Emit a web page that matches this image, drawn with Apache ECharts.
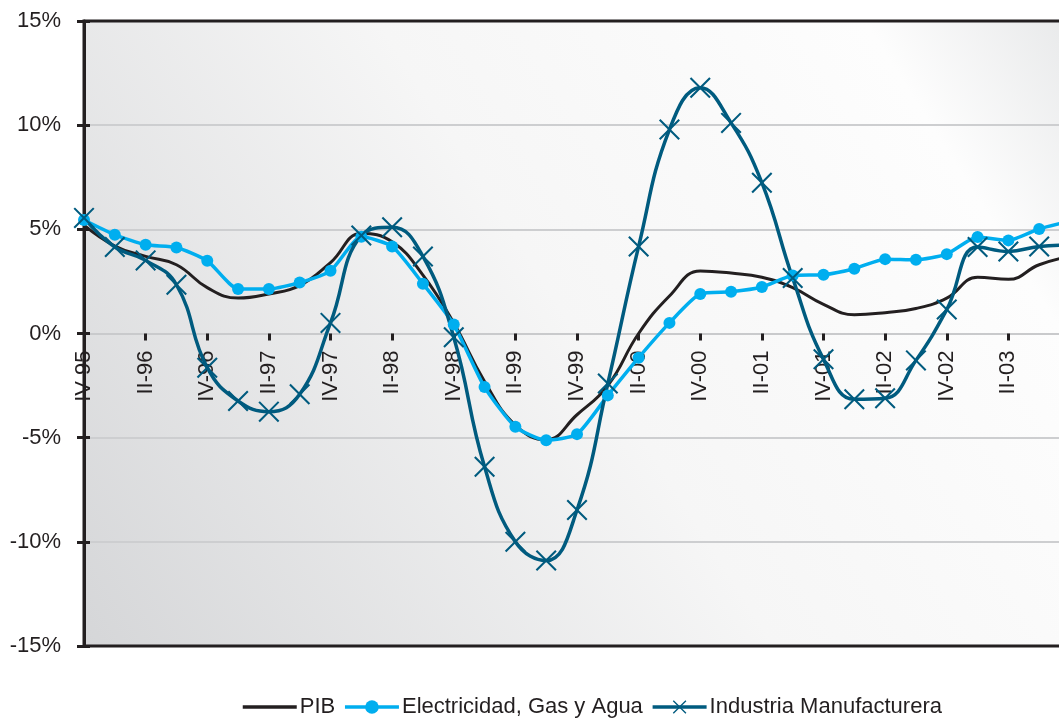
<!DOCTYPE html>
<html>
<head>
<meta charset="utf-8">
<title>PIB, Electricidad e Industria</title>
<script src="https://cdn.jsdelivr.net/npm/echarts@6/dist/echarts.min.js"></script>
<style>
  html,body{margin:0;padding:0;background:#fff;}
  #grafico{width:1059px;height:720px;}
</style>
</head>
<body>
<div id="grafico"></div>
<script>
// trimestres (eje x)
var categorias = ["IV-95","I-96","II-96","III-96","IV-96","I-97","II-97","III-97","IV-97",
  "I-98","II-98","III-98","IV-98","I-99","II-99","III-99","IV-99","I-00","II-00","III-00","IV-00",
  "I-01","II-01","III-01","IV-01","I-02","II-02","III-02","IV-02","I-03","II-03","III-03","IV-03"];

// variación %
var pib = [5.2,4.2,3.7,3.3,2.2,1.7,1.9,2.3,3.4,4.8,4.4,2.8,0.5,-2.3,-4.4,-5.1,-3.9,-2.5,0.0,1.8,
  3.0,2.9,2.7,2.2,1.4,0.9,1.0,1.2,1.7,2.7,2.6,3.3,3.7];
var electricidad = [5.45,4.74,4.26,4.13,3.49,2.14,2.14,2.45,3.01,4.64,4.18,2.39,0.43,-2.57,-4.48,-5.12,
  -4.83,-2.97,-1.16,0.51,1.9,2.0,2.23,2.78,2.82,3.11,3.57,3.54,3.81,4.63,4.47,5.02,5.4];
var industria = [5.55,4.15,3.51,2.34,-1.64,-3.24,-3.75,-2.92,0.51,4.7,5.1,3.7,-0.18,-6.4,-10.0,-10.9,
  -8.47,-2.4,4.18,9.79,11.8,10.11,7.24,2.66,-1.24,-3.16,-3.11,-1.29,1.15,4.15,3.94,4.18,4.25];

var ejeY = {min:-15, max:15, intervalo:5};

var fuente = "'Liberation Sans Narrow','Liberation Sans',Arial,sans-serif";
var oscuro = "#231f20";
var marcaX = "path://M0,0.7L0.7,0L10,9.3L9.3,10Z M9.3,0L10,0.7L0.7,10L0,9.3Z";

// alto del área de trazado, para subir el eje x hasta el 0%
var grid = {left:84, top:21, right:-11, bottom:74};
var altoPlot = 720 - grid.top - grid.bottom;

var app = {
  chart: null,
  init: function(){
    app.chart = echarts.init(document.getElementById("grafico"));
    app.chart.setOption(app.opciones());
  },
  opciones: function(){
    return {
      animation: false,
      textStyle: {fontFamily: fuente, color: oscuro},
      grid: {
        left: grid.left, top: grid.top, right: grid.right, bottom: grid.bottom,
        outerBoundsMode: "none",
        containLabel: false,
        show: true,
        borderColor: oscuro, borderWidth: 3,
        backgroundColor: new echarts.graphic.LinearGradient(0, 1, 1, 0, [
          {offset: 0, color: "#d5d6d8"},
          {offset: 0.5, color: "#f6f6f6"},
          {offset: 0.85, color: "#fdfdfd"},
          {offset: 1, color: "#e8e9ea"}
        ])
      },
      legend: {
        left: 236, bottom: -3,
        itemWidth: 54, itemHeight: 17, itemGap: 8,
        lineStyle: {width: 3.5},
        textStyle: {fontFamily: fuente, fontSize: 22, color: oscuro, padding: [0,0,0,-2]},
        data: [
          {name: "PIB", itemStyle: {opacity: 0}},
          "Electricidad, Gas y Agua",
          "Industria Manufacturera"
        ]
      },
      xAxis: {
        type: "category",
        data: categorias,
        boundaryGap: false,
        offset: -altoPlot / 2,
        axisLine: {onZero: false, lineStyle: {color: "#c9cacc", width: 2}},
        axisTick: {interval: 1, length: 7, lineStyle: {color: oscuro, width: 3}},
        axisLabel: {interval: 1, rotate: 90, margin: 17, fontSize: 22, color: oscuro, fontFamily: fuente},
        splitLine: {show: false}
      },
      yAxis: [
        {
          type: "value",
          min: ejeY.min, max: ejeY.max, interval: ejeY.intervalo,
          axisLine: {show: true, lineStyle: {color: oscuro, width: 3}},
          axisTick: {show: true, length: 7, lineStyle: {color: oscuro, width: 3}},
          axisLabel: {formatter: "{value}%", fontSize: 22, margin: 23, color: oscuro, fontFamily: fuente},
          splitLine: {showMinLine: false, showMaxLine: false, lineStyle: {color: "#cdced0", width: 2}}
        },
        {
          // solo para que las marcas crucen el eje hacia dentro
          type: "value", position: "left",
          min: ejeY.min, max: ejeY.max, interval: ejeY.intervalo,
          axisLine: {show: false},
          axisTick: {show: true, inside: true, length: 6, lineStyle: {color: oscuro, width: 3}},
          axisLabel: {show: false},
          splitLine: {show: false}
        }
      ],
      series: [
        {
          name: "PIB", type: "line", data: pib,
          smooth: 0.45, showSymbol: false, symbol: "none",
          color: oscuro,
          lineStyle: {color: oscuro, width: 3}
        },
        {
          name: "Electricidad, Gas y Agua", type: "line", data: electricidad,
          smooth: 0.2, symbol: "circle", symbolSize: 12, showAllSymbol: true,
          color: "#00aeef",
          lineStyle: {color: "#00aeef", width: 3.5},
          itemStyle: {color: "#00aeef"}
        },
        {
          name: "Industria Manufacturera", type: "line", data: industria,
          smooth: 0.45, symbol: marcaX, symbolSize: 21, showAllSymbol: true,
          color: "#005b7f",
          lineStyle: {color: "#005b7f", width: 3.5},
          itemStyle: {color: "#005b7f"}
        }
      ]
    };
  }
};

app.init();
</script>
</body>
</html>
